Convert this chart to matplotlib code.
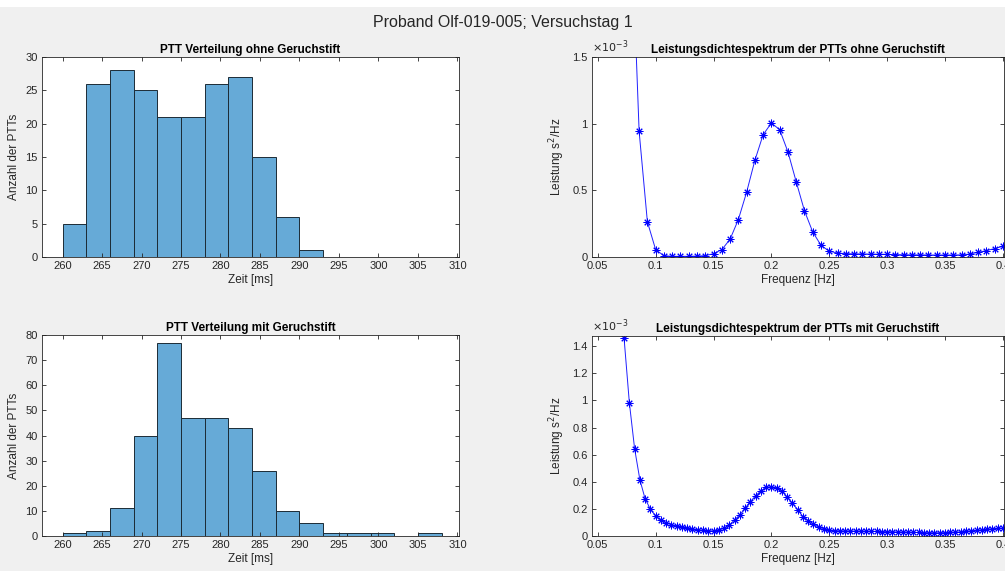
import numpy as np
import matplotlib
matplotlib.use('Agg')
import matplotlib.pyplot as plt
from matplotlib.ticker import FuncFormatter, MultipleLocator
from matplotlib.patches import Rectangle

plt.rcParams['font.family'] = ['Liberation Sans', 'DejaVu Sans']

# histogram data (bins of 3 ms starting at 260 ms)
bin_start = 260
bin_width = 3
counts_ohne = [5, 26, 28, 25, 21, 21, 26, 27, 15, 6, 1]
counts_mit = [1, 2, 11, 40, 77, 47, 47, 43, 26, 10, 5, 1, 1, 1, 0, 1]

# PSD ohne Geruchstift: f = k/140 Hz, k = 10..56
k_ohne_start = 10
df_ohne = 1 / 140
psd_ohne = [5.0e-3, 2.6e-3,
            0.942e-3, 0.264e-3, 0.055e-3, 0.010e-3, 0.005e-3, 0.005e-3, 0.005e-3,
            0.007e-3, 0.010e-3, 0.025e-3, 0.055e-3, 0.133e-3, 0.280e-3, 0.485e-3,
            0.724e-3, 0.917e-3, 1.005e-3, 0.955e-3, 0.789e-3, 0.565e-3, 0.347e-3,
            0.188e-3, 0.088e-3, 0.043e-3, 0.030e-3, 0.025e-3, 0.024e-3, 0.023e-3,
            0.022e-3, 0.021e-3, 0.020e-3, 0.018e-3, 0.017e-3, 0.016e-3, 0.016e-3,
            0.015e-3, 0.015e-3, 0.015e-3, 0.015e-3, 0.016e-3, 0.022e-3, 0.035e-3,
            0.048e-3, 0.063e-3, 0.080e-3]

# PSD mit Geruchstift: f = k/220 Hz, k = 16..88
k_mit_start = 16
df_mit = 1 / 220
psd_mit = [1.457e-3, 0.983e-3, 0.644e-3, 0.415e-3, 0.274e-3, 0.198e-3, 0.148e-3,
           0.116e-3, 0.099e-3, 0.084e-3, 0.074e-3, 0.067e-3, 0.059e-3, 0.052e-3,
           0.047e-3, 0.042e-3, 0.039e-3, 0.038e-3, 0.045e-3, 0.058e-3, 0.080e-3,
           0.119e-3, 0.156e-3, 0.205e-3, 0.254e-3, 0.296e-3, 0.333e-3, 0.358e-3,
           0.365e-3, 0.353e-3, 0.333e-3, 0.286e-3, 0.242e-3, 0.193e-3, 0.143e-3,
           0.114e-3, 0.089e-3, 0.064e-3, 0.054e-3, 0.044e-3, 0.039e-3, 0.038e-3,
           0.037e-3, 0.037e-3, 0.036e-3, 0.036e-3, 0.035e-3, 0.035e-3, 0.034e-3,
           0.033e-3, 0.032e-3, 0.031e-3, 0.030e-3, 0.029e-3, 0.028e-3, 0.027e-3,
           0.026e-3, 0.025e-3, 0.024e-3, 0.024e-3, 0.024e-3, 0.025e-3, 0.026e-3,
           0.028e-3, 0.031e-3, 0.034e-3, 0.038e-3, 0.042e-3, 0.046e-3, 0.050e-3,
           0.053e-3, 0.056e-3, 0.058e-3]

dark = '#262626'
bar_col = '#66aad7'

W, H = 1005, 571
fig = plt.figure(figsize=(W / 100, H / 100), dpi=100)
fig.patch.set_facecolor('#f0f0f0')
fig.patches.append(Rectangle((0, 1 - 7 / H), 1, 7 / H, transform=fig.transFigure,
                             facecolor='white', edgecolor='none', zorder=-1))


def px_axes(l, t, r, b):
    return fig.add_axes([l / W, 1 - b / H, (r - l) / W, (b - t) / H])


def style(ax):
    ax.tick_params(direction='in', top=True, right=True, length=3, width=0.6,
                   labelsize=8, colors=dark, pad=3)
    for s in ax.spines.values():
        s.set_color(dark)
        s.set_linewidth(0.6)


ax1 = px_axes(42, 57, 459, 257)
ax2 = px_axes(592, 57, 1004, 257)
ax3 = px_axes(42, 335, 459, 536)
ax4 = px_axes(592, 336, 1004, 536)

for ax, counts, ymax, ystep, title in [
        (ax1, counts_ohne, 30, 5, 'PTT Verteilung ohne Geruchstift'),
        (ax3, counts_mit, 80, 10, 'PTT Verteilung mit Geruchstift')]:
    lefts = bin_start + bin_width * np.arange(len(counts))
    c = np.array(counts)
    m = c > 0
    ax.bar(lefts[m], c[m], width=bin_width, align='edge', color=bar_col,
           edgecolor='#1c2b36', linewidth=0.7)
    ax.set_xlim(257.4, 310.2)
    ax.set_ylim(0, ymax)
    ax.xaxis.set_major_locator(MultipleLocator(5))
    ax.yaxis.set_major_locator(MultipleLocator(ystep))
    style(ax)
    ax.set_title(title, fontsize=8.5, fontweight='bold', color='black', pad=3)
    ax.set_xlabel('Zeit [ms]', fontsize=8.5, color=dark, labelpad=2)
    ax.set_ylabel('Anzahl der PTTs', fontsize=8.5, color=dark, labelpad=4)

for ax, kstart, df, psd, ylim, ystep, title in [
        (ax2, k_ohne_start, df_ohne, psd_ohne, 1.5e-3, 0.5e-3,
         'Leistungsdichtespektrum der PTTs ohne Geruchstift'),
        (ax4, k_mit_start, df_mit, psd_mit, 1.475e-3, 0.2e-3,
         'Leistungsdichtespektrum der PTTs mit Geruchstift')]:
    f = (kstart + np.arange(len(psd))) * df
    ax.plot(f, psd, color='#2020ff', linewidth=0.7, marker=(8, 2, 0),
            markersize=5.5, markeredgewidth=0.7, markeredgecolor='blue')
    ax.set_xlim(0.045, 0.401)
    ax.set_ylim(0, ylim)
    ax.xaxis.set_major_locator(MultipleLocator(0.05))
    ax.yaxis.set_major_locator(MultipleLocator(ystep))
    ax.xaxis.set_major_formatter(FuncFormatter(lambda v, p: f'{v:g}'))
    ax.yaxis.set_major_formatter(FuncFormatter(lambda v, p: f'{round(v * 1e3, 6):g}'))
    style(ax)
    ax.text(0, 1.01, r'$\times10^{-3}$', transform=ax.transAxes, fontsize=8,
            color=dark, ha='left', va='bottom')
    ax.set_title(title, fontsize=8.5, fontweight='bold', color='black', pad=3)
    ax.set_xlabel('Frequenz [Hz]', fontsize=8.5, color=dark, labelpad=2)
    ax.set_ylabel(r'Leistung s$^2$/Hz', fontsize=8.5, color=dark, labelpad=4)

fig.text(0.5, 1 - 22 / H, 'Proband Olf-019-005; Versuchstag 1', ha='center',
         va='center', fontsize=11.5, color=dark)

fig.savefig('out.png', dpi=100, facecolor=fig.get_facecolor())
